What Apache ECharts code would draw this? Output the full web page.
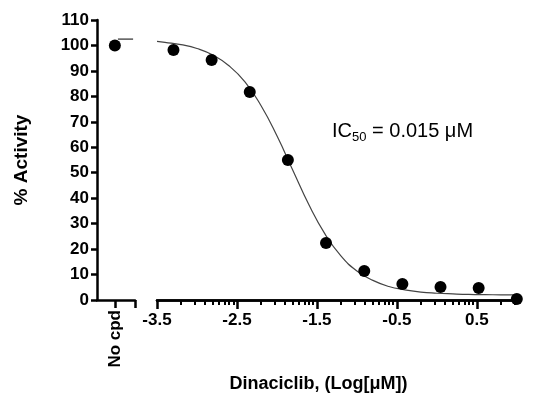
<!DOCTYPE html>
<html><head><meta charset="utf-8">
<script src="https://cdn.jsdelivr.net/npm/echarts@6/dist/echarts.min.js"></script>
<style>html,body{margin:0;padding:0;background:#fff}#c{width:545px;height:403px}</style>
</head><body><div id="c"></div>
<script>
const logConc = [-3.294, -2.817, -2.340, -1.863, -1.386, -0.908, -0.431, 0.046, 0.523, 1.0];
const activity = [98.2, 94.3, 81.7, 55.0, 22.4, 11.4, 6.3, 5.1, 4.7, 0.4];
const noCpdValue = 100;
const fitX = [-3.5,-3.4,-3.2,-3.0,-2.8,-2.6,-2.4,-2.2,-2.0,-1.8,-1.6,-1.4,-1.2,-1.0,-0.8,-0.6,-0.4,-0.2,0,0.2,0.4,0.6,0.8,1.0];
const fitY = [101.6,101.2,100.3,98.8,96.2,92.0,85.7,76.4,64.5,50.9,37.4,26.0,17.3,11.4,7.7,5.3,4.0,3.1,2.66,2.4,2.2,2.1,2.05,2.03];
const topPlateau = 102.5;
const majorTicks = [-3.5,-2.5,-1.5,-0.5,0.5];
const minorTicks = [];
for (const m of majorTicks) for (let k=2;k<=9;k++){const v=m+Math.log10(k); if(v<1.04) minorTicks.push(+v.toFixed(3));}

const F = 'Liberation Sans, Arial, sans-serif';
const ax = {lineStyle:{color:'#000',width:2.5}};
const chart = echarts.init(document.getElementById('c'));
chart.setOption({
  animation:false,
  grid:[{left:97,width:38,top:20,bottom:103},{left:157,right:25,top:20,bottom:103}],
  xAxis:[
    {gridIndex:0,type:'value',min:0,max:1,axisLine:ax,splitLine:{show:false},
     axisTick:{show:true,customValues:[0.47,1],length:8,lineStyle:{color:'#000',width:2.5}},
     axisLabel:{customValues:[0.47],formatter:()=> 'No cpd',rotate:90,color:'#000',fontWeight:'bold',fontSize:17,fontFamily:F,margin:10}},
    {gridIndex:1,type:'value',min:-3.5,max:1.04,axisLine:ax,splitLine:{show:false},
     axisTick:{show:true,customValues:majorTicks,length:9,lineStyle:{color:'#000',width:2.5}},
     axisLabel:{customValues:majorTicks,formatter:v=>String(v),color:'#000',fontWeight:'bold',fontSize:17,fontFamily:F,margin:12},
     name:'Dinaciclib, (Log[μM])',nameLocation:'middle',nameGap:75,
     nameTextStyle:{color:'#000',fontWeight:'bold',fontSize:18,fontFamily:F,padding:[0,0,0,-40]}},
    {gridIndex:1,type:'value',min:-3.5,max:1.04,position:'bottom',offset:0,
     axisLine:{show:true,lineStyle:{color:'#000',width:2.5}},splitLine:{show:false},
     axisTick:{show:true,customValues:minorTicks,length:5,lineStyle:{color:'#000',width:2}},
     axisLabel:{show:false}}
  ],
  yAxis:[
    {gridIndex:0,type:'value',min:0,max:110,interval:10,axisLine:{show:true,lineStyle:{color:'#000',width:2.5}},
     axisTick:{show:true,length:6,lineStyle:{color:'#000',width:2.5}},splitLine:{show:false},
     axisLabel:{color:'#000',fontWeight:'bold',fontSize:17,fontFamily:F,margin:8},
     name:'% Activity',nameLocation:'middle',nameGap:66,nameRotate:90,
     nameTextStyle:{color:'#000',fontWeight:'bold',fontSize:19,fontFamily:F}},
    {gridIndex:1,type:'value',min:0,max:110,show:false}
  ],
  series:[
    {type:'scatter',xAxisIndex:0,yAxisIndex:0,data:[[0.47,noCpdValue]],symbolSize:12,itemStyle:{color:'#000',opacity:1}},
    {type:'line',xAxisIndex:0,yAxisIndex:0,data:[[0.55,topPlateau],[0.95,topPlateau]],symbol:'none',lineStyle:{color:'#000',width:1}},
    {type:'line',xAxisIndex:1,yAxisIndex:1,data:fitX.map((x,i)=>[x,fitY[i]]),smooth:true,symbol:'none',lineStyle:{color:'#444',width:1.2}},
    {type:'scatter',xAxisIndex:1,yAxisIndex:1,data:logConc.map((x,i)=>[x,activity[i]]),symbolSize:12,itemStyle:{color:'#000',opacity:1},z:5}
  ],
  graphic:[{type:'text',left:332,top:121,style:{
    text:'{a|IC}{s|50}{a| = 0.015 μM}',
    rich:{a:{fontSize:20,fontFamily:F,fill:'#000'},s:{fontSize:13,fontFamily:F,fill:'#000',padding:[13,0,0,0]}}}}]
});
</script></body></html>
